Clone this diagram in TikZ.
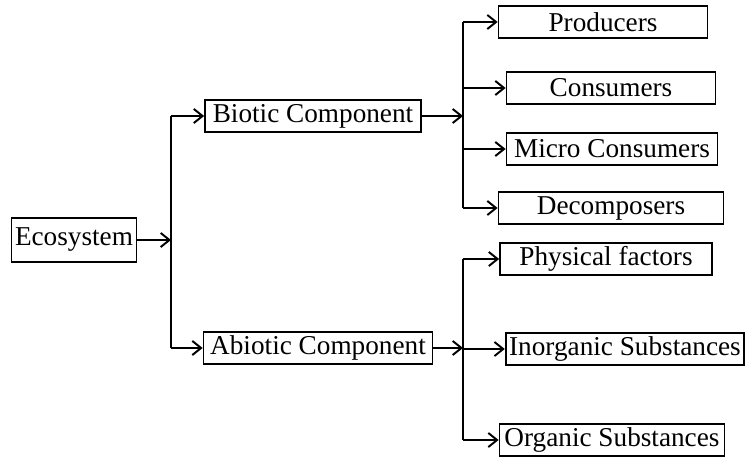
\documentclass[tikz,border=0pt]{standalone}
\usepackage{fontspec}
\setmainfont{Liberation Serif}
\usetikzlibrary{arrows.meta}

\tikzset{
  box/.style={draw, line width=1pt, minimum height=0.64cm, inner sep=2pt,
    font=\fontsize{15.5}{18}\selectfont},
  link/.style={line width=1.1pt, -{Straight Barb[length=5pt,width=8pt]}},
  bus/.style={line width=1.1pt}
}

\begin{document}
\begin{tikzpicture}[x=0.02cm, y=-0.02cm]
\useasboundingbox (0,0) rectangle (749,459);

% Root
\node[box, minimum width=2.44cm, minimum height=0.88cm] (eco) at (74,240) {Ecosystem};

% Components
\node[box, minimum width=4.32cm] (bio) at (313,116) {Biotic Component};
\node[box, minimum width=4.58cm] (abio) at (318,348) {Abiotic Component};

% Biotic parts
\node[box, minimum width=4.18cm] (prod) at (603,22) {Producers};
\node[box, minimum width=4.18cm] (cons) at (611,88) {Consumers};
\node[box, minimum width=4.22cm] (micro) at (612,149) {Micro Consumers};
\node[box, minimum width=4.5cm] (dec) at (611,208) {Decomposers};

% Abiotic parts
\node[box, minimum width=4.24cm] (phys) at (606,259) {Physical factors};
\node[box, minimum width=4.7cm] (inorg) at (625,349) {Inorganic Substances};
\node[box, minimum width=4.5cm] (org) at (612,440) {Organic Substances};

% Junctions
\coordinate (j1) at (171,240);
\coordinate (j2) at (463,116);
\coordinate (j3) at (463,348);

% Ecosystem to components
\draw[link] (eco) -- (j1);
\draw[bus] (j1 |- bio) -- (j1 |- abio);
\draw[link] (j1 |- bio) -- (bio);
\draw[link] (j1 |- abio) -- (abio);

% Biotic branch
\draw[link] (bio) -- (j2);
\draw[bus] (j2 |- prod) -- (j2 |- dec);
\foreach \n in {prod,cons,micro,dec}
  \draw[link] (j2 |- \n) -- (\n);

% Abiotic branch
\draw[link] (abio) -- (j3);
\draw[bus] (j3 |- phys) -- (j3 |- org);
\foreach \n in {phys,inorg,org}
  \draw[link] (j3 |- \n) -- (\n);

\end{tikzpicture}
\end{document}
